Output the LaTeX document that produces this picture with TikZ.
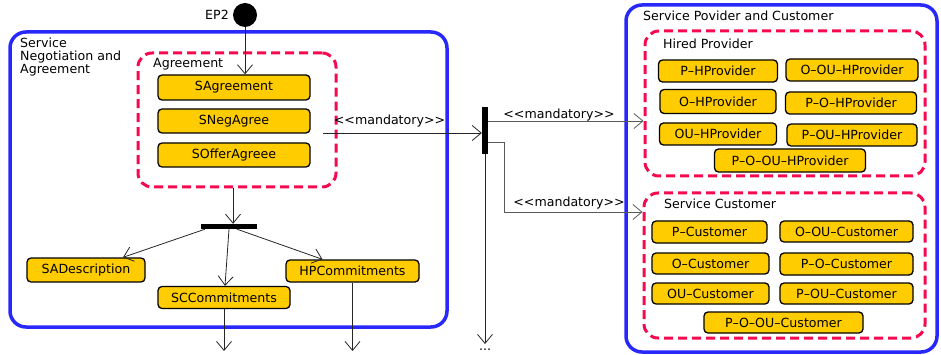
\documentclass[tikz,border=0pt]{standalone}
\usepackage{fontspec}
\newfontfamily\dvs{DejaVu Sans}
\usetikzlibrary{arrows.meta,calc}
\definecolor{fblue}{RGB}{40,40,250}
\definecolor{fred}{RGB}{245,10,80}
\definecolor{fgold}{RGB}{255,204,0}
\begin{document}
\begin{tikzpicture}[x=1pt,y=-1pt,
  font=\dvs\fontsize{12.6}{13}\selectfont,
  fnode/.style={draw=black, fill=fgold, line width=1.3pt, rounded corners=4pt, inner sep=0pt, text=black},
  bluebox/.style={draw=fblue, line width=3.5pt, rounded corners=16pt, inner sep=0pt},
  redbox/.style={draw=fred, line width=3pt, dash pattern=on 9pt off 5pt, rounded corners=14pt, inner sep=0pt},
  arr/.style={draw=black!85, line width=0.8pt, -{Straight Barb[length=9pt,width=15pt]}},
  grayarr/.style={arr, draw=black!65},
  lbl/.style={inner sep=0pt, anchor=west},
  barnode/.style={fill=black, inner sep=0pt}]
\useasboundingbox (0,0) rectangle (941,355);
% containers
\node[bluebox, minimum width=437pt, minimum height=295pt] (sna) at (228.5,179.5) {};
\node[bluebox, minimum width=311pt, minimum height=347pt] (spc) at (781.5,178.5) {};
\node[redbox, minimum width=198pt, minimum height=134pt] (agr) at (237,120) {};
\node[redbox, minimum width=280pt, minimum height=145pt] (hpbox) at (785,103.5) {};
\node[redbox, minimum width=281pt, minimum height=145pt] (scbox) at (784.5,265.5) {};
% container labels
\node[lbl, anchor=north west, align=left] (snalbl) at (20,38) {Service\\Negotiation and\\Agreement};
\node[lbl] (agrlbl) at (153,64) {Agreement};
\node[lbl] (spclbl) at (643,16) {Service Povider and Customer};
\node[lbl] (hplbl) at (663,44) {Hired Provider};
\node[lbl] (sclbl) at (664,204) {Service Customer};
% start
\node[circle, fill=black, inner sep=0pt, minimum size=24pt] (ep) at (245,15) {};
\node[inner sep=0pt] (eplbl) at (217,15) {EP2};
% agreement nodes
\node[fnode, minimum width=152pt, minimum height=25pt] (sag) at (234,87.5) {SAgreement};
\node[fnode, minimum width=152pt, minimum height=24pt] (sneg) at (234,121) {SNegAgree};
\node[fnode, minimum width=152pt, minimum height=24pt] (soff) at (234,155) {SOfferAgreee};
% fork
\node[barnode, minimum width=56pt, minimum height=5pt] (fork1) at (229,226.5) {};
\node[fnode, minimum width=118pt, minimum height=24pt] (sad) at (86,270) {SADescription};
\node[fnode, minimum width=132pt, minimum height=22pt] (scc) at (224,297.5) {SCCommitments};
\node[fnode, minimum width=133pt, minimum height=22pt] (hpc) at (352.5,271) {HPCommitments};
% second bar
\node[barnode, minimum width=6pt, minimum height=47pt] (bar2) at (485,130.5) {};
% provider nodes
\node[fnode, minimum width=119pt, minimum height=22pt] (p1) at (718,71) {P–HProvider};
\node[fnode, minimum width=132pt, minimum height=22pt] (p2) at (852,70) {O–OU–HProvider};
\node[fnode, minimum width=116pt, minimum height=24pt] (p3) at (718,101.5) {O–HProvider};
\node[fnode, minimum width=131pt, minimum height=22pt] (p4) at (851,103) {P–O–HProvider};
\node[fnode, minimum width=117pt, minimum height=22pt] (p5) at (718,134) {OU–HProvider};
\node[fnode, minimum width=130pt, minimum height=22pt] (p6) at (852,135) {P–OU–HProvider};
\node[fnode, minimum width=151pt, minimum height=23pt] (p7) at (790,160.5) {P–O–OU–HProvider};
% customer nodes
\node[fnode, minimum width=115pt, minimum height=22pt] (c1) at (709.5,232) {P–Customer};
\node[fnode, minimum width=133pt, minimum height=21pt] (c2) at (846.5,231.5) {O–OU–Customer};
\node[fnode, minimum width=117pt, minimum height=21pt] (c3) at (710.5,263.5) {O–Customer};
\node[fnode, minimum width=133pt, minimum height=22pt] (c4) at (846.5,264) {P–O–Customer};
\node[fnode, minimum width=117pt, minimum height=21pt] (c5) at (710.5,293.5) {OU–Customer};
\node[fnode, minimum width=133pt, minimum height=21pt] (c6) at (846.5,293.5) {P–OU–Customer};
\node[fnode, minimum width=159pt, minimum height=21pt] (c7) at (783.5,322.5) {P–O–OU–Customer};
% connectors
\draw[arr] (ep.south) -- (ep.south |- sag.north);
\draw[arr] ([xshift=-4pt]agr.south) -- ([xshift=-4pt]agr.south |- fork1.north);
\draw[arr] ([xshift=-24pt]fork1.south) -- ([xshift=37pt]sad.north);
\draw[arr] (fork1.south) -- ([xshift=1pt]scc.north);
\draw[arr] ([xshift=8pt]fork1.south) -- ([xshift=-30pt]hpc.north);
\coordinate (e1) at (224,351);
\coordinate (e2) at (352.5,351);
\draw[arr] (scc.south) -- (e1);
\draw[arr] (hpc.south) -- (e2);
\coordinate (m1) at (323,133);
\draw[arr] (m1) -- (m1 -| bar2.west);
\node[inner sep=0pt] (ml1) at (389.5,121) {<<mandatory>>};
\draw[grayarr] ([yshift=9.5pt]bar2.east) -- ([yshift=9.5pt]bar2.east -| hpbox.west);
\node[inner sep=0pt] (ml2) at (559,115) {<<mandatory>>};
\draw[grayarr] ([yshift=-11.5pt]bar2.east) -- ++(16,0) |- ([yshift=53.5pt]scbox.west);
\node[inner sep=0pt] (ml3) at (569,203) {<<mandatory>>};
\coordinate (e3) at (485,344);
\draw[arr] (bar2.south) -- (e3);
\node[inner sep=0pt] (dots) at (485,350) {...};
\end{tikzpicture}
\end{document}
